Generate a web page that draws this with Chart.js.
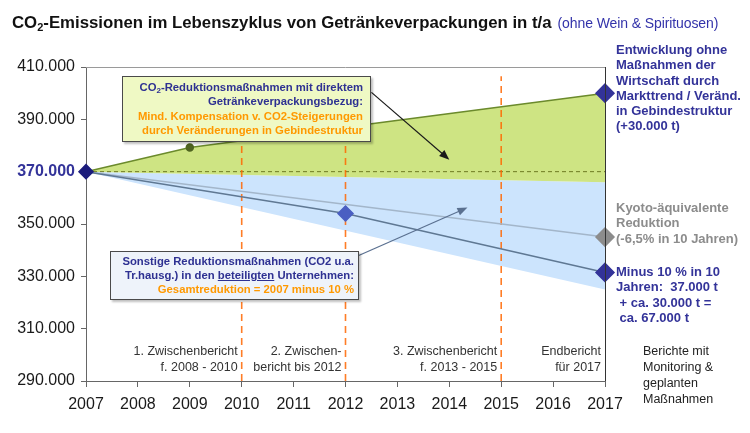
<!DOCTYPE html>
<html>
<head>
<meta charset="utf-8">
<script src="https://cdn.jsdelivr.net/npm/chart.js@4.4.1/dist/chart.umd.min.js"></script>
<style>
  body { margin: 0; background: #fff; font-family: Arial, "Liberation Sans", sans-serif; }
  #wrap { position: relative; width: 750px; height: 433px; overflow: hidden; }
  #c { position: absolute; left: 0; top: 0; }
  .txt { position: absolute; white-space: nowrap; }
  .tief { position: relative; top: 3px; line-height: 0; }
  #titel { left: 12px; top: 13px; font-size: 16.8px; font-weight: bold; color: #111; }
  #titel .tief { font-size: 11px; }
  #titel span.klein { font-size: 14px; font-weight: normal; color: #3333aa; margin-left: 6px; letter-spacing: -0.1px; }
  .rechts { left: 616px; font-size: 13px; font-weight: bold; line-height: 15.3px; }
  .box { position: absolute; box-sizing: border-box; border: 1px solid #4a4a4a; text-align: right;
         font-size: 11.3px; font-weight: bold; line-height: 14.3px; box-shadow: 2px 2px 2px rgba(0,0,0,0.25); }
  .box .tief { font-size: 8px; top: 2px; }
  .blau { color: #2e3192; }
  .orange { color: #ff9900; }
  #berichte { left: 643px; top: 343px; font-size: 12.5px; line-height: 16px; color: #222; }
</style>
</head>
<body>
<div id="wrap">
  <canvas id="c" width="750" height="433"></canvas>
  <div class="txt" id="titel">CO<span class="tief">2</span>-Emissionen im Lebenszyklus von Getränkeverpackungen in t/a<span class="klein">(ohne Wein &amp; Spirituosen)</span></div>

  <div class="txt rechts" style="top:42px; color:#333399;">Entwicklung ohne<br>Maßnahmen der<br>Wirtschaft durch<br>Markttrend / Veränd.<br>in Gebindestruktur<br>(+30.000 t)</div>
  <div class="txt rechts" style="top:200px; color:#8c8c8c;">Kyoto-äquivalente<br>Reduktion<br>(-6,5% in 10 Jahren)</div>
  <div class="txt rechts" style="top:264px; color:#333399;">Minus 10 % in 10<br>Jahren:&nbsp; 37.000 t<br>&nbsp;+ ca. 30.000 t =<br>&nbsp;ca. 67.000 t</div>
  <div class="txt" id="berichte">Berichte mit<br>Monitoring &amp;<br>geplanten<br>Maßnahmen</div>

  <div class="box" style="left:122px; top:76px; width:249px; height:66px; background:#eff9c4; padding:3px 7px 0 0;">
    <div class="blau">CO<span class="tief">2</span>-Reduktionsmaßnahmen mit direktem</div>
    <div class="blau">Getränkeverpackungsbezug:</div>
    <div class="orange">Mind. Kompensation v. CO2-Steigerungen</div>
    <div class="orange">durch Veränderungen in Gebindestruktur</div>
  </div>
  <div class="box" style="left:110px; top:251px; width:249px; height:49px; background:#eef3fa; padding:3px 4px 0 0; line-height:13.8px;">
    <div class="blau">Sonstige Reduktionsmaßnahmen (CO2 u.a.</div>
    <div class="blau">Tr.hausg.) in den <u>beteiligten</u> Unternehmen:</div>
    <div class="orange">Gesamtreduktion = 2007 minus 10 %</div>
  </div>
</div>

<script>
// Werte (t CO2 pro Jahr)
const jahre = [2007, 2008, 2009, 2010, 2011, 2012, 2013, 2014, 2015, 2016, 2017];
const yTicks = [290000, 310000, 330000, 350000, 370000, 390000, 410000];

// Entwicklung ohne Maßnahmen (gruene Obergrenze)
const ohneMassnahmenJahre = [2007, 2009, 2017];
const ohneMassnahmenWerte = [370000, 379200, 400000];

// blaues Band: sonstige Reduktionsmaßnahmen
const bandJahre = [2007, 2017];
const bandOben = [370000, 366000];
const bandUnten = [370000, 325000];

// Kyoto-aequivalente Reduktion (-6,5 %)
const kyotoJahre = [2007, 2017];
const kyotoWerte = [370000, 345000];

// Minus 10 % in 10 Jahren
const minus10Jahre = [2007, 2012, 2017];
const minus10Werte = [370000, 354000, 331500];

// Basisjahr 2007
const basisWert = 370000;

// Berichte
const berichtJahre = [2010, 2012, 2015, 2017];
const berichtTexte = [
    ['1. Zwischenbericht', 'f. 2008 - 2010'],
    ['2. Zwischen-', 'bericht bis 2012'],
    ['3. Zwischenbericht', 'f. 2013 - 2015'],
    ['Endbericht', 'für 2017']
];
const berichtLinienJahre = [2010, 2012, 2015];

// Pfeile der Textkaesten (Daten-Koordinaten)
const pfeile = [
    { von: [2012.5, 400300], nach: [2014.0, 374600], farbe: '#1a1a1a' },
    { von: [2012.2, 337500], nach: [2014.35, 356300], farbe: '#5a7090' }
];

function punkte(xs, ys) {
    return xs.map((x, i) => ({ x: x, y: ys[i] }));
}

function tausender(v) {
    return String(Math.round(v)).replace(/\B(?=(\d{3})+(?!\d))/g, '.');
}

const schrift = 'Arial, "Liberation Sans", sans-serif';

const berichtLinien = berichtLinienJahre.map(j => ({
    data: punkte([j, j], [290000, 406500]),
    borderColor: 'rgba(255, 102, 0, 0.85)',
    borderWidth: 1.6,
    borderDash: [7, 5],
    pointRadius: 0,
    fill: false,
    order: 3
}));

const extras = {
    id: 'extras',
    beforeDatasetsDraw(chart) {
        const ctx = chart.ctx;
        const a = chart.chartArea;
        // Rahmen oben
        ctx.save();
        ctx.strokeStyle = '#9a9a9a';
        ctx.lineWidth = 1;
        ctx.beginPath();
        ctx.moveTo(a.left, a.top + 0.5);
        ctx.lineTo(a.right, a.top + 0.5);
        ctx.stroke();
        ctx.restore();
    },
    afterDatasetsDraw(chart) {
        const ctx = chart.ctx;
        const xs = chart.scales.x, ys = chart.scales.y;
        const a = chart.chartArea;

        // Rahmen rechts
        ctx.save();
        ctx.strokeStyle = '#333';
        ctx.lineWidth = 1;
        ctx.beginPath();
        ctx.moveTo(a.right + 0.5, a.top);
        ctx.lineTo(a.right + 0.5, a.bottom);
        ctx.stroke();

        // Berichtstexte
        ctx.fillStyle = '#333';
        ctx.font = '12.5px ' + schrift;
        ctx.textAlign = 'right';
        ctx.textBaseline = 'middle';
        berichtJahre.forEach((j, i) => {
            const px = xs.getPixelForValue(j) - 4;
            berichtTexte[i].forEach((t, k) => ctx.fillText(t, px, 352 + k * 16));
        });

        // Pfeile
        pfeile.forEach(p => {
            const x1 = xs.getPixelForValue(p.von[0]), y1 = ys.getPixelForValue(p.von[1]);
            const x2 = xs.getPixelForValue(p.nach[0]), y2 = ys.getPixelForValue(p.nach[1]);
            const w = Math.atan2(y2 - y1, x2 - x1);
            ctx.strokeStyle = p.farbe;
            ctx.fillStyle = p.farbe;
            ctx.lineWidth = 1.2;
            ctx.beginPath();
            ctx.moveTo(x1, y1);
            ctx.lineTo(x2 - 6 * Math.cos(w), y2 - 6 * Math.sin(w));
            ctx.stroke();
            ctx.beginPath();
            ctx.moveTo(x2, y2);
            ctx.lineTo(x2 - 10 * Math.cos(w) + 4 * Math.sin(w), y2 - 10 * Math.sin(w) - 4 * Math.cos(w));
            ctx.lineTo(x2 - 10 * Math.cos(w) - 4 * Math.sin(w), y2 - 10 * Math.sin(w) + 4 * Math.cos(w));
            ctx.closePath();
            ctx.fill();
        });
        ctx.restore();
    }
};

new Chart(document.getElementById('c'), {
    type: 'line',
    data: {
        datasets: [
            {   // 0: ohne Massnahmen, gruene Flaeche bis zum blauen Band
                data: punkte(ohneMassnahmenJahre, ohneMassnahmenWerte),
                borderColor: '#6b8a2c',
                borderWidth: 1.5,
                backgroundColor: '#cee483',
                fill: 1,
                clip: false,
                pointStyle: ['circle', 'circle', 'rectRot'],
                pointRadius: [0, 3.5, 9],
                pointBackgroundColor: ['#333399', '#4f6420', '#333399'],
                pointBorderColor: ['#333399', '#4f6420', '#333399'],
                order: 5
            },
            {   // 1: Band oben
                data: punkte(bandJahre, bandOben),
                borderWidth: 0,
                borderColor: 'rgba(0,0,0,0)',
                backgroundColor: '#cce4fd',
                fill: '+1',
                pointRadius: 0,
                order: 6
            },
            {   // 2: Band unten
                data: punkte(bandJahre, bandUnten),
                borderWidth: 0,
                borderColor: 'rgba(0,0,0,0)',
                fill: false,
                pointRadius: 0,
                order: 7
            },
            {   // 3: Basislinie 2007
                data: punkte([jahre[0], jahre[jahre.length - 1]], [basisWert, basisWert]),
                borderColor: '#6e7a22',
                borderWidth: 1,
                borderDash: [4, 3],
                pointRadius: 0,
                fill: false,
                order: 4
            },
            ...berichtLinien,
            {   // Kyoto
                data: punkte(kyotoJahre, kyotoWerte),
                borderColor: '#a3b6ca',
                borderWidth: 1.5,
                clip: false,
                pointStyle: 'rectRot',
                pointRadius: [0, 9],
                pointBackgroundColor: '#8c8c8c',
                pointBorderColor: '#8c8c8c',
                fill: false,
                order: 2
            },
            {   // Minus 10 %
                data: punkte(minus10Jahre, minus10Werte),
                borderColor: '#5f7893',
                borderWidth: 1.5,
                clip: false,
                pointStyle: 'rectRot',
                pointRadius: [7, 7.5, 9],
                pointBackgroundColor: ['#1c1c7c', '#4a5fc2', '#333399'],
                pointBorderColor: ['#1c1c7c', '#4a5fc2', '#333399'],
                fill: false,
                order: 1
            }
        ]
    },
    options: {
        responsive: false,
        animation: false,
        layout: { padding: { top: 67, right: 145, left: 0, bottom: 0 } },
        scales: {
            x: {
                type: 'linear',
                min: jahre[0],
                max: jahre[jahre.length - 1],
                afterFit(s) { s.height = 52; },
                afterBuildTicks(s) { s.ticks = jahre.map(j => ({ value: j })); },
                ticks: {
                    font: { family: schrift, size: 16 },
                    color: '#1a1a1a',
                    padding: 8,
                    maxRotation: 0,
                    autoSkip: false,
                    callback: v => String(v)
                },
                grid: { drawOnChartArea: false, drawTicks: true, tickLength: 6, color: '#666' },
                border: { color: '#666' }
            },
            y: {
                min: yTicks[0],
                max: yTicks[yTicks.length - 1],
                afterFit(s) { s.width = 86; },
                afterBuildTicks(s) { s.ticks = yTicks.map(v => ({ value: v })); },
                ticks: {
                    font: ctx => ({ family: schrift, size: 16, weight: ctx.tick && ctx.tick.value === basisWert ? 'bold' : 'normal' }),
                    color: ctx => ctx.tick && ctx.tick.value === basisWert ? '#333399' : '#1a1a1a',
                    padding: 6,
                    callback: v => tausender(v)
                },
                grid: { drawOnChartArea: false, drawTicks: true, tickLength: 5, color: '#666' },
                border: { color: '#666' }
            }
        },
        plugins: {
            legend: { display: false },
            tooltip: { enabled: false }
        }
    },
    plugins: [extras]
});
</script>
</body>
</html>
